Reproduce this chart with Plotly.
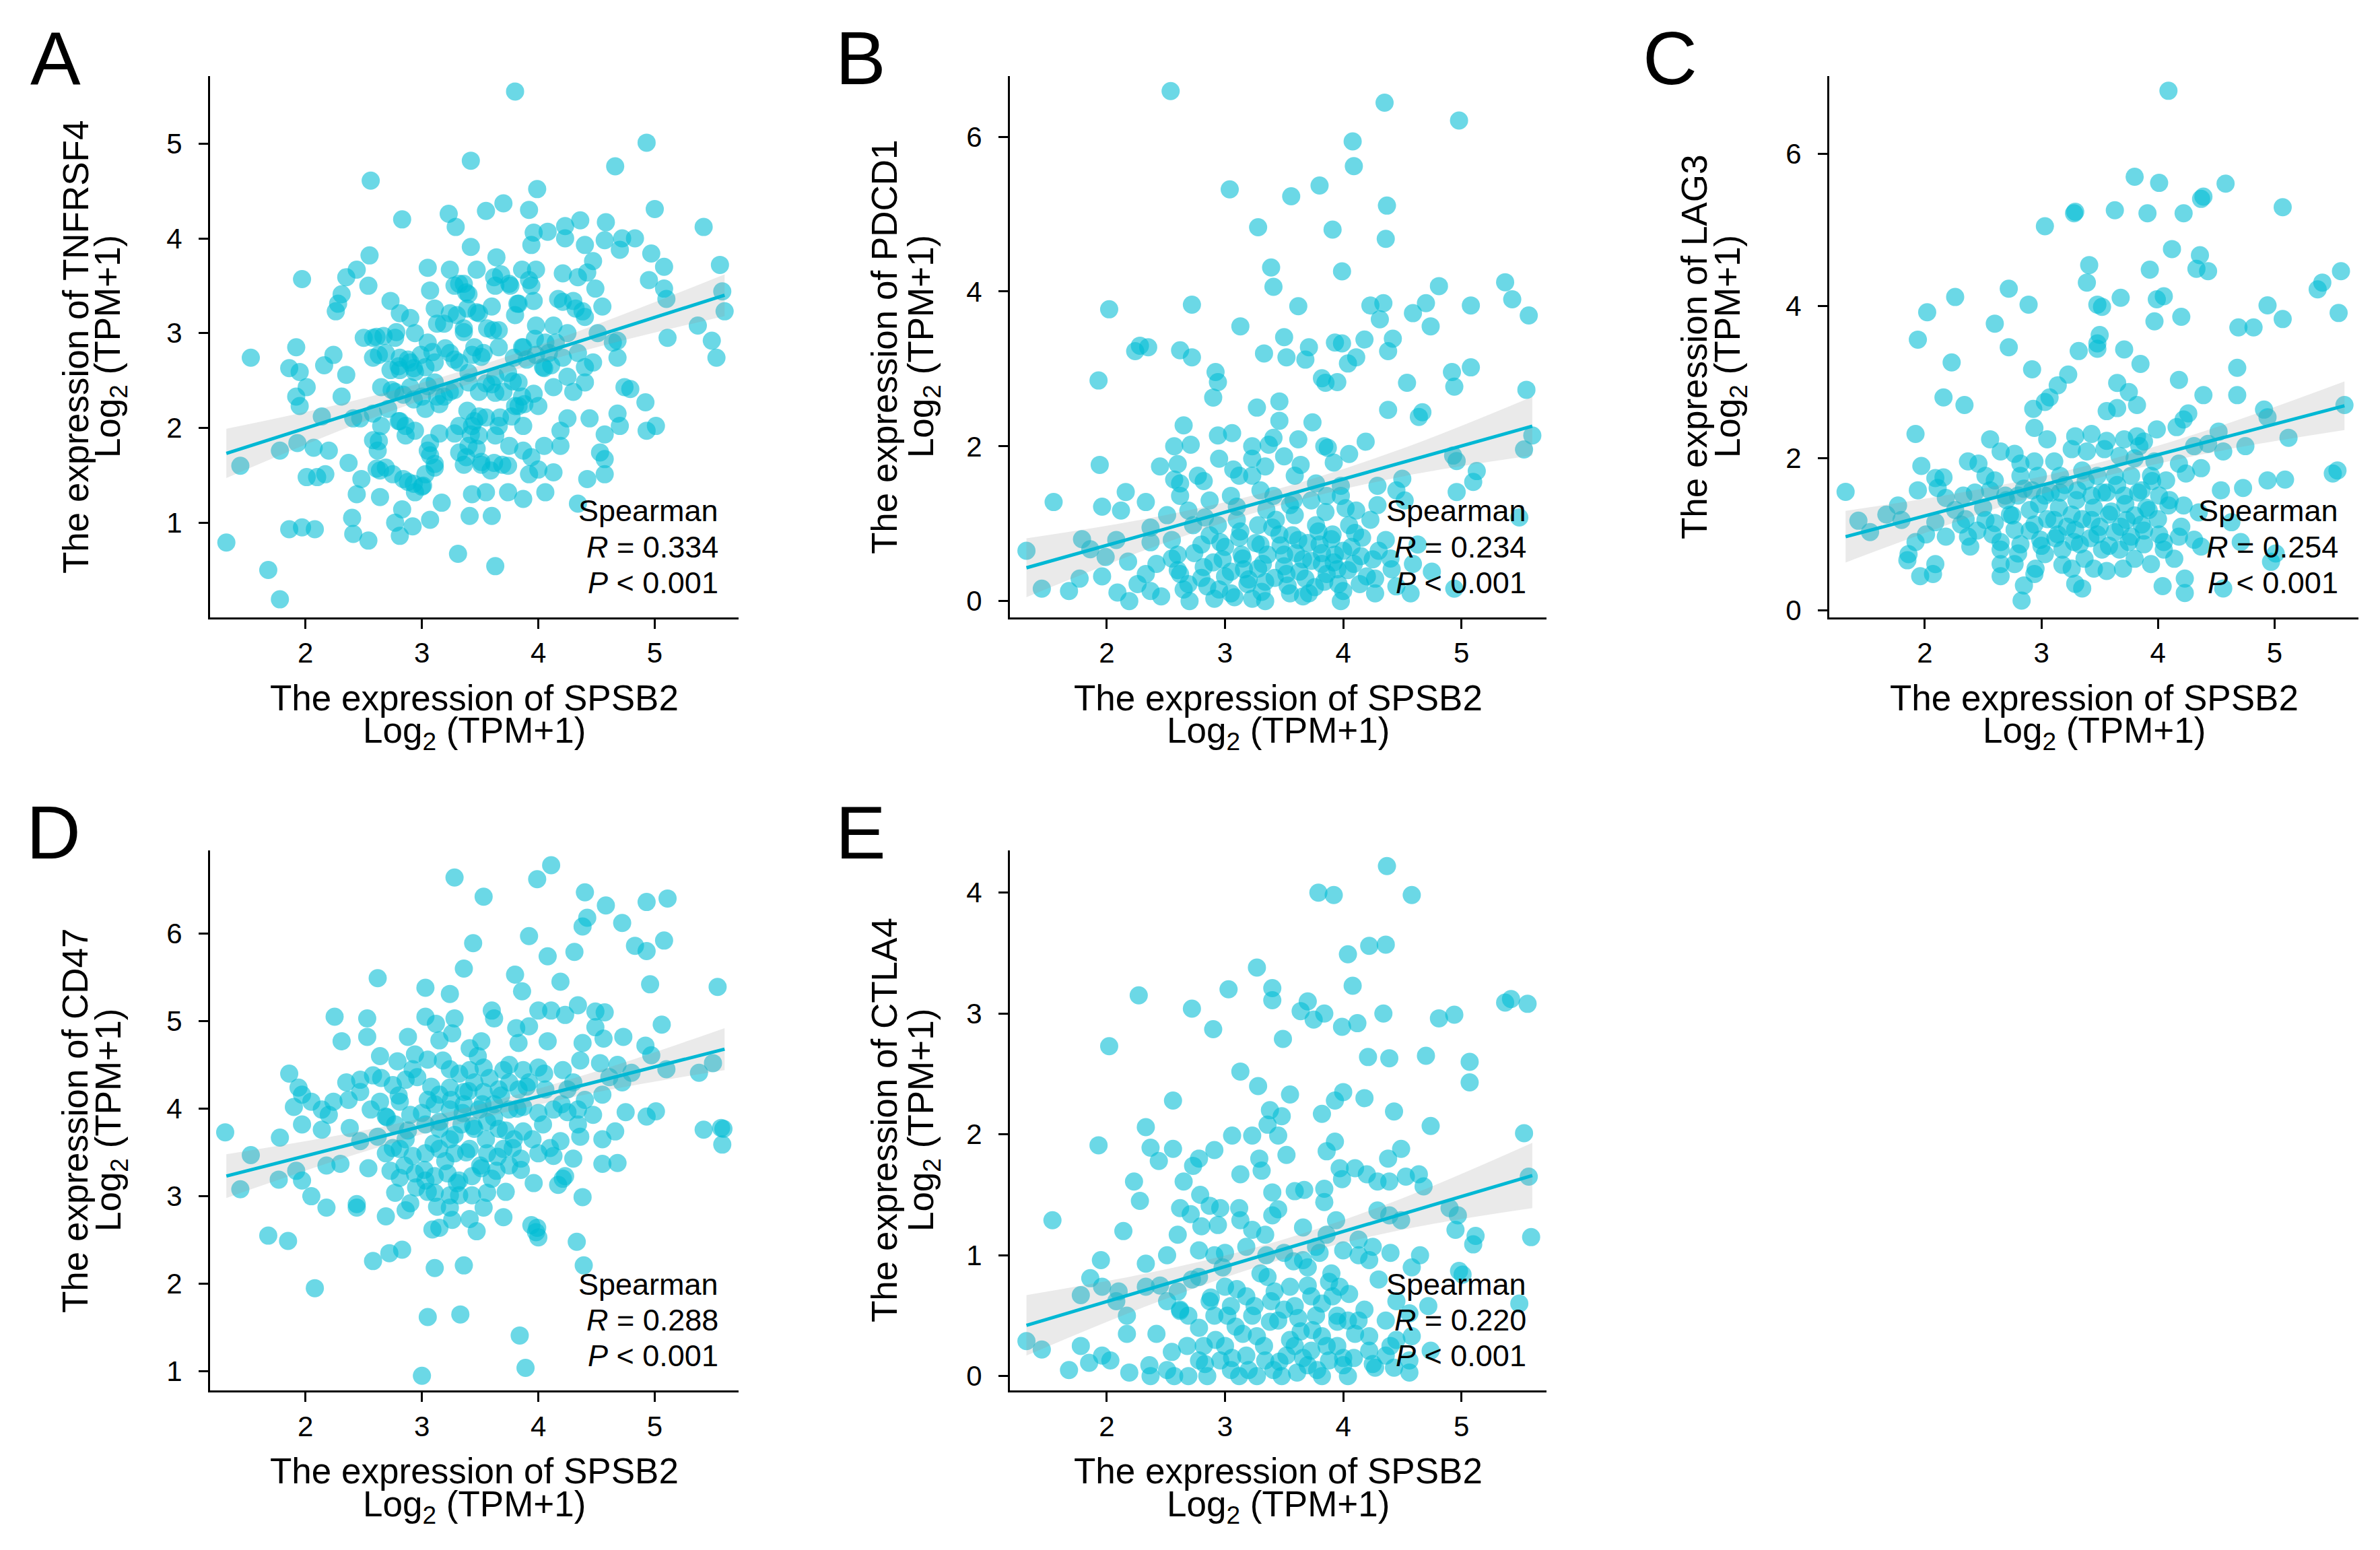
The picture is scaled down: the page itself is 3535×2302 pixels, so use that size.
import numpy as np
import plotly.graph_objects as go

W, H = 3535, 2302
FONT = "Liberation Sans, Arial, sans-serif"
POINT = "rgba(0,188,212,0.58)"
LINE = "#00b8d4"
BAND = "rgba(150,150,150,0.2)"

# shared x axis (SPSB2)
spsb2_ticks = [2, 3, 4, 5]
x_range = [1.18, 5.72]
fit_x = [1.32, 5.60]
ci_x = [1.32, 2.4, 3.45, 4.5, 5.6]

# A - TNFRSF4 (x = SPSB2, y = gene)
tnfrsf4_pts = [
    (3.80,5.55),(4.93,5.01),(3.42,4.82),(4.66,4.76),(2.56,4.61),(3.99,4.52),(3.23,4.26),(3.29,4.12),
    (3.55,4.29),(3.70,4.37),(3.92,4.30),(2.83,4.20),(4.36,4.19),(4.58,4.17),(4.23,4.13),(5.00,4.31),
    (5.42,4.12),(3.94,3.93),(3.96,4.06),(4.08,4.07),(4.23,4.00),(4.40,3.93),(4.57,3.98),(4.72,4.00),
    (4.83,4.00),(4.70,3.88),(3.42,3.91),(2.55,3.82),(3.64,3.80),(4.97,3.84),(5.56,3.72),(5.08,3.70),
    (4.47,3.76),(4.42,3.64),(3.05,3.69),(3.24,3.67),(3.47,3.67),(3.68,3.62),(3.86,3.67),(3.98,3.67),
    (4.21,3.63),(2.44,3.67),(2.35,3.59),(1.97,3.57),(2.54,3.50),(3.07,3.45),(3.32,3.52),(3.40,3.41),
    (3.62,3.59),(3.75,3.52),(3.92,3.56),(4.95,3.56),(5.08,3.47),(4.49,3.47),(4.34,3.59),(2.31,3.41),
    (2.28,3.31),(2.26,3.23),(2.73,3.34),(2.81,3.21),(2.90,3.16),(3.83,3.31),(3.96,3.34),(4.17,3.36),
    (4.30,3.34),(4.38,3.23),(4.55,3.28),(5.10,3.36),(5.58,3.44),(5.60,3.23),(3.11,3.26),(3.24,3.21),
    (3.39,3.26),(3.49,3.21),(3.60,3.28),(3.19,3.10),(3.36,3.05),(3.56,3.05),(3.66,3.03),(3.98,3.08),
    (4.13,3.08),(4.25,3.00),(4.51,3.00),(4.68,2.92),(5.11,2.95),(5.37,3.08),(5.49,2.92),(5.53,2.74),
    (2.50,2.95),(2.58,2.95),(2.67,2.97),(2.77,2.95),(2.94,3.00),(3.05,2.90),(1.92,2.85),(1.53,2.74),
    (2.24,2.77),(2.16,2.66),(1.86,2.63),(1.95,2.59),(2.01,2.43),(1.92,2.33),(1.95,2.23),(2.35,2.56),
    (2.58,2.74),(2.69,2.79),(2.81,2.74),(2.90,2.69),(2.73,2.61),(2.81,2.61),(2.94,2.59),(3.03,2.64),
    (3.11,2.69),(3.24,2.79),(3.32,2.69),(3.43,2.77),(3.53,2.79),(3.66,2.85),(3.79,2.74),(3.87,2.85),
    (3.98,2.77),(4.04,2.64),(4.11,2.66),(4.21,2.74),(4.34,2.79),(4.47,2.69),(4.68,2.74),(4.64,2.90),
    (2.65,2.43),(2.77,2.38),(2.90,2.43),(3.11,2.48),(3.24,2.38),(3.40,2.48),(3.49,2.38),(3.60,2.46),
    (3.70,2.38),(3.83,2.48),(3.96,2.36),(4.13,2.43),(4.25,2.54),(4.40,2.48),(4.74,2.43),(2.31,2.33),
    (2.41,2.10),(2.47,2.10),(2.14,2.12),(2.20,1.76),(2.07,1.79),(1.93,1.84),(1.78,1.76),(1.44,1.60),
    (1.32,0.79),(1.68,0.50),(1.78,0.19),(1.86,0.93),(1.97,0.95),(2.08,0.93),(2.01,1.48),(2.10,1.48),
    (2.17,1.51),(2.37,1.63),(2.48,1.46),(2.44,1.30),(2.40,1.05),(2.41,0.88),(2.54,0.81),(2.64,1.27),
    (2.77,1.00),(2.81,0.86),(2.92,0.96),(3.07,1.03),(3.17,1.21),(3.31,0.67),(3.63,0.54),(3.41,1.07),
    (3.60,1.07),(3.43,1.30),(3.55,1.32),(3.74,1.32),(3.87,1.25),(4.06,1.32),(4.34,1.20),(4.42,1.46),
    (4.57,1.51),(4.57,1.67),(4.53,1.74),(4.57,1.93),(4.70,2.02),(4.68,2.15),(4.92,2.27),(4.93,1.97),
    (5.01,2.02),(4.44,2.10),(4.25,2.10),(4.19,1.97),(4.19,1.81),(4.05,1.81),(3.87,1.76),(3.92,1.51),
    (4.00,1.56),(4.13,1.53),(3.94,1.69),(3.69,1.61),(3.75,1.81),(3.63,1.92),(3.66,2.02),(3.87,2.02),
    (4.00,2.23),(3.83,2.23),(3.77,2.12),(3.49,2.12),(3.39,2.18),(3.32,2.02),(3.43,2.02),(3.49,1.92),
    (3.40,1.81),(3.32,1.74),(3.36,1.61),(3.51,1.61),(3.62,1.63),(3.15,1.94),(3.28,1.94),(3.07,1.84),
    (3.07,1.71),(3.11,1.58),(3.03,1.51),(3.00,1.38),(2.94,1.32),(2.88,1.43),(2.83,1.14),(2.75,1.51),
    (2.69,1.58),(2.62,1.76),(2.58,1.87),(2.81,2.07),(2.86,1.92),(2.94,1.97),(2.65,2.02),(2.58,2.15),
    (2.71,2.20),(3.03,2.20),(3.15,2.25),(3.19,2.33),(3.00,2.33),(4.30,2.38),(4.40,2.64),(4.15,2.90),
    (4.06,2.90),(4.79,2.41),
    # dense core
    (3.28,3.50),(3.38,3.43),(3.36,3.52),(3.63,3.50),(3.76,3.50),(3.94,3.50),(4.21,3.33),(4.32,3.26),
    (4.40,3.17),(3.82,3.31),(3.80,3.19),(3.47,3.22),(3.30,3.19),(3.13,3.10),(3.61,3.03),(3.36,3.01),
    (2.61,2.96),(2.78,3.01),(2.63,2.77),(2.88,2.72),(2.99,2.77),(2.93,2.63),(2.80,2.65),(3.09,2.80),
    (3.20,2.84),(3.28,2.72),(3.45,2.85),(3.51,2.75),(3.40,2.58),(3.86,2.85),(3.97,2.94),(4.09,2.79),
    (4.05,2.63),(3.90,2.72),(3.74,2.58),(3.63,2.54),(3.55,2.47),(3.78,2.49),(3.63,2.37),(3.86,2.33),
    (2.74,2.40),(2.84,2.35),(2.93,2.30),(3.05,2.44),(3.13,2.33),(3.28,2.40),(3.45,2.07),(3.42,1.93),
    (3.55,2.11),(3.67,2.11),(3.80,2.23),(3.88,2.25),(3.47,1.78),(3.38,1.69),(3.51,1.64),(2.63,1.86),
    (2.61,1.57),(2.80,2.07),(2.86,2.02),(3.05,1.76),(3.11,1.62),(2.84,1.46),(2.93,1.41),(3.01,1.39),
    (2.64,1.55),(3.59,1.55),(3.74,1.60),
]
tnfrsf4_fit = [1.73, 3.40]
tnfrsf4_ci = [0.26, 0.13, 0.08, 0.12, 0.22]

# B - PDCD1
pdcd1_pts = [
    (2.54,6.59),(4.35,6.44),(4.98,6.21),(4.08,5.94),(4.09,5.62),(3.04,5.32),(3.56,5.23),(3.80,5.37),
    (4.37,5.11),(3.28,4.83),(3.91,4.80),(4.36,4.68),(3.99,4.26),(3.39,4.31),(3.41,4.06),(4.81,4.07),
    (5.37,4.12),(5.43,3.90),(5.08,3.82),(5.57,3.69),(4.70,3.85),(4.59,3.72),(4.74,3.55),(4.23,3.82),
    (4.34,3.85),(4.31,3.64),(3.62,3.81),(2.72,3.83),(2.02,3.77),(3.13,3.55),(3.50,3.41),(3.71,3.28),
    (3.68,3.12),(3.33,3.20),(3.52,3.15),(3.93,3.34),(3.99,3.33),(4.04,3.07),(4.11,3.15),(4.18,3.38),
    (4.42,3.39),(4.38,3.23),(2.24,3.23),(2.28,3.30),(2.35,3.28),(2.62,3.24),(2.72,3.15),(2.92,2.96),
    (2.94,2.83),(2.90,2.63),(1.93,2.85),(3.82,2.88),(3.95,2.83),(3.85,2.82),(4.92,2.96),(4.94,2.77),
    (5.08,3.02),(4.54,2.82),(5.55,2.73),(3.27,2.50),(3.46,2.58),(3.46,2.33),(3.41,2.11),(3.74,2.31),
    (4.38,2.47),(4.67,2.44),(4.64,2.38),(2.65,2.27),(2.57,2.00),(2.71,2.02),(2.94,2.14),(3.06,2.17),
    (3.23,2.00),(3.37,2.02),(3.62,2.09),(3.84,2.00),(3.87,1.98),(4.05,1.90),(3.92,1.79),(4.19,2.06),
    (4.93,1.88),(4.96,1.81),(5.53,1.96),(5.60,2.14),(1.94,1.76),(2.45,1.74),(2.60,1.77),(2.95,1.84),
    (3.07,1.70),(3.23,1.84),(3.34,1.74),(3.50,1.87),(3.64,1.76),(2.57,1.57),(2.62,1.52),(2.77,1.62),
    (2.82,1.55),(3.12,1.62),(3.23,1.62),(3.59,1.62),(3.77,1.52),(3.98,1.49),(4.29,1.49),(4.50,1.58),
    (5.13,1.68),(5.10,1.54),(4.96,1.41),(1.55,1.28),(1.96,1.22),(2.16,1.41),(2.33,1.28),(2.12,1.17),
    (2.51,1.11),(2.69,1.17),(2.87,1.30),(3.05,1.36),(3.30,1.43),(3.41,1.36),(3.55,1.24),(3.73,1.30),
    (3.86,1.36),(3.98,1.36),(4.11,1.17),(4.29,1.24),(4.45,1.43),(4.52,1.30),(5.49,1.08),(1.32,0.65),
    (1.45,0.16),(1.68,0.13),(1.79,0.80),(1.86,0.67),(1.77,0.29),(1.96,0.32),(1.99,0.57),(2.08,0.79),
    (2.18,0.51),(2.09,0.11),(2.19,0.00),(2.37,0.95),(2.37,0.76),(2.42,0.48),(2.37,0.13),(2.46,0.06),
    (2.55,0.79),(2.60,0.60),(2.62,0.35),(2.70,0.00),(2.73,0.98),(2.80,0.73),(2.82,0.44),(2.85,0.19),
    (2.91,0.03),(2.94,0.98),(2.96,0.76),(2.98,0.54),(3.00,0.32),(3.05,0.10),(3.10,1.05),(3.12,0.82),
    (3.14,0.60),(3.16,0.41),(3.19,0.22),(3.23,0.03),(3.28,0.98),(3.30,0.73),(3.32,0.48),(3.34,0.25),
    (3.34,0.00),(3.43,1.05),(3.46,0.86),(3.50,0.60),(3.52,0.35),(3.55,0.10),(3.59,1.11),(3.62,0.79),
    (3.66,0.54),(3.68,0.29),(3.71,0.10),(3.77,0.98),(3.80,0.73),(3.82,0.48),(3.84,0.25),(3.91,0.86),
    (3.93,0.60),(3.95,0.41),(4.00,0.13),(4.05,0.98),(4.07,0.70),(4.09,0.48),(4.14,0.22),(4.16,0.82),
    (4.23,1.05),(4.25,0.54),(4.27,0.29),(4.27,0.10),(4.36,0.79),(4.41,0.41),(4.45,0.19),(4.57,0.10),
    (4.59,0.48),(4.63,0.73),(4.75,0.38),(4.94,0.16),(2.62,1.36),(2.33,0.35),(2.26,0.22),(2.69,0.22),
    (3.98,0.00),
    # dense core
    (2.74,0.62),(2.80,0.30),(2.87,0.85),(2.90,0.50),(2.95,0.15),(3.00,0.70),(3.05,0.38),(3.08,0.05),
    (3.13,0.90),(3.15,0.55),(3.20,0.28),(3.26,0.75),(3.28,0.42),(3.31,0.12),(3.36,0.60),(3.40,0.95),
    (3.42,0.30),(3.47,0.72),(3.50,0.45),(3.53,0.20),(3.57,0.85),(3.60,0.62),(3.63,0.38),(3.66,0.06),
    (3.70,0.75),(3.73,0.52),(3.76,0.18),(3.79,0.90),(3.82,0.62),(3.86,0.35),(3.90,0.80),(3.92,0.50),
    (3.96,0.22),(4.00,0.65),(4.04,0.40),(4.10,0.88),(4.15,0.58),(4.20,0.32),(4.30,0.65),(4.40,0.55),
    (2.60,0.40),(2.65,0.15),(2.55,0.55),(3.10,1.22),(3.35,1.18),(3.58,1.30),(3.85,1.15),(2.83,1.08),
    (4.02,1.20),
]
pdcd1_fit = [0.43, 2.26]
pdcd1_ci = [0.38, 0.19, 0.11, 0.18, 0.38]

# C - LAG3
lag3_pts = [
    (4.09,6.83),(3.80,5.70),(4.01,5.62),(4.58,5.61),(4.39,5.44),(4.37,5.41),(5.07,5.30),(3.28,5.22),
    (3.29,5.24),(3.63,5.26),(3.91,5.22),(4.22,5.22),(3.03,5.05),(4.12,4.75),(3.41,4.54),(3.39,4.31),
    (3.93,4.48),(4.36,4.67),(4.33,4.49),(4.43,4.46),(5.57,4.46),(5.41,4.31),(5.37,4.22),(2.72,4.23),
    (2.26,4.12),(2.02,3.92),(2.89,4.02),(3.48,4.02),(3.52,3.99),(3.68,4.11),(3.99,4.09),(4.05,4.13),
    (3.97,3.80),(4.20,3.86),(4.94,4.01),(5.07,3.83),(5.55,3.91),(4.69,3.72),(4.82,3.72),(2.60,3.77),
    (1.94,3.56),(2.72,3.46),(3.32,3.41),(3.48,3.44),(3.50,3.62),(3.48,3.51),(3.71,3.43),(2.23,3.26),
    (2.92,3.17),(3.23,3.10),(3.85,3.24),(4.68,3.19),(3.14,2.96),(3.07,2.80),(3.03,2.74),(2.93,2.65),
    (3.65,2.99),(3.75,2.87),(4.18,3.03),(3.82,2.70),(3.65,2.66),(3.56,2.62),(4.39,2.83),(4.68,2.83),
    (2.16,2.80),(2.34,2.70),(5.60,2.70),(4.91,2.64),(4.94,2.54),(4.26,2.59),(4.22,2.51),(1.92,2.32),
    (2.94,2.40),(2.56,2.25),(3.05,2.25),(3.29,2.29),(3.43,2.32),(3.56,2.23),(3.71,2.25),(3.82,2.29),
    (3.99,2.38),(4.16,2.41),(3.84,2.16),(3.88,2.22),(4.52,2.35),(4.75,2.16),(5.12,2.27),(4.43,2.19),
    (4.56,2.09),(4.31,2.16),(2.65,2.09),(2.77,2.06),(2.82,1.93),(2.94,1.96),(3.11,1.96),(3.26,2.12),
    (3.39,2.09),(3.54,2.12),(3.67,2.03),(3.80,2.00),(3.97,1.96),(4.18,1.93),(4.37,1.87),(2.37,1.96),
    (2.46,1.93),(1.97,1.90),(2.09,1.74),(2.16,1.75),(2.52,1.77),(2.60,1.71),(2.82,1.77),(2.97,1.77),
    (3.16,1.77),(3.35,1.84),(3.48,1.77),(3.63,1.77),(3.77,1.77),(3.94,1.77),(4.07,1.71),(4.24,1.80),
    (4.94,1.71),(5.09,1.72),(5.50,1.80),(5.54,1.84),(4.73,1.61),(4.54,1.58),(1.94,1.58),(1.32,1.56),
    (1.43,1.18),(1.53,1.03),(1.67,1.26),(1.77,1.38),(1.80,1.19),(2.11,1.61),(2.18,1.48),(2.33,1.51),
    (2.26,1.32),(2.43,1.55),(2.56,1.58),(2.69,1.51),(2.80,1.51),(2.92,1.58),(3.03,1.51),(3.16,1.55),
    (3.31,1.58),(3.43,1.51),(3.56,1.55),(3.71,1.51),(3.86,1.58),(4.01,1.51),(4.09,1.38),(4.22,1.38),
    (4.35,1.29),(2.09,1.16),(2.01,1.00),(1.92,0.90),(2.18,0.97),(2.31,1.13),(2.37,0.97),(2.39,0.84),
    (2.52,1.19),(2.58,1.00),(2.65,0.80),(2.73,1.26),(2.77,1.06),(2.82,0.87),(2.90,1.32),(2.94,1.13),
    (2.99,0.93),(3.03,0.74),(3.11,1.19),(3.14,1.00),(3.18,0.80),(3.26,1.26),(3.29,1.06),(3.33,0.87),
    (3.37,0.68),(3.43,1.19),(3.48,1.00),(3.52,0.80),(3.58,1.26),(3.63,1.03),(3.67,0.80),(3.73,1.19),
    (3.77,0.97),(3.80,0.68),(3.86,1.13),(3.88,0.87),(3.92,1.32),(3.94,0.61),(4.01,1.00),(4.05,0.90),
    (4.14,0.68),(4.18,0.97),(4.31,0.93),(4.37,0.84),(5.01,0.75),(4.71,0.90),(4.63,1.16),(1.86,0.74),
    (1.85,0.66),(1.96,0.45),(2.07,0.48),(2.09,0.61),(2.65,0.61),(2.65,0.45),(2.77,0.61),(2.85,0.33),
    (2.83,0.13),(2.94,0.48),(3.29,0.35),(3.35,0.29),(3.26,0.55),(3.56,0.52),(4.04,0.32),(4.23,0.42),
    (4.23,0.23),(4.56,0.29),(4.97,0.64),
    # dense core
    (2.35,1.20),(2.45,1.05),(2.50,1.35),(2.60,1.15),(2.65,0.90),(2.70,1.45),(2.75,1.25),(2.80,0.75),
    (2.85,1.60),(2.90,1.05),(2.98,1.40),(3.00,0.85),(3.05,1.20),(3.08,1.55),(3.12,0.95),(3.15,1.35),
    (3.20,1.65),(3.22,1.10),(3.28,0.90),(3.30,1.45),(3.35,1.20),(3.38,1.70),(3.42,0.95),(3.45,1.35),
    (3.50,1.10),(3.52,1.55),(3.58,0.85),(3.60,1.30),(3.65,1.65),(3.68,1.10),(3.72,1.40),(3.75,0.90),
    (3.80,1.25),(3.83,1.55),(3.88,1.05),(3.90,1.35),(3.95,1.70),(4.00,1.20),(4.05,0.80),(4.10,1.45),
    (3.18,0.60),(3.45,0.55),(3.70,0.55),(2.95,0.55),(4.20,1.10),
]
lag3_fit = [0.97, 2.69]
lag3_ci = [0.34, 0.17, 0.10, 0.16, 0.32]

# D - CD47
cd47_pts = [
    (3.28,6.64),(3.99,6.62),(4.11,6.78),(3.53,6.42),(4.40,6.47),(4.58,6.32),(4.93,6.36),(5.11,6.40),
    (4.42,6.18),(4.38,6.08),(4.72,6.12),(3.92,5.97),(3.44,5.89),(4.83,5.86),(4.93,5.80),(5.08,5.92),
    (4.08,5.74),(4.31,5.79),(3.36,5.60),(3.80,5.53),(2.62,5.49),(4.19,5.45),(3.86,5.34),(3.03,5.38),
    (3.24,5.31),(4.96,5.42),(5.54,5.39),(2.25,5.05),(2.53,5.03),(3.03,5.05),(3.28,5.03),(3.12,4.97),
    (3.60,5.12),(3.62,5.03),(4.00,5.12),(4.11,5.12),(4.23,5.07),(4.34,5.18),(4.49,5.11),(4.57,5.10),
    (5.06,4.96),(3.81,4.92),(3.92,4.94),(4.49,4.93),(2.31,4.77),(2.53,4.82),(2.88,4.82),(3.26,4.86),
    (3.15,4.78),(3.51,4.77),(3.83,4.75),(4.08,4.77),(4.38,4.75),(4.56,4.80),(4.73,4.82),(4.92,4.72),
    (3.41,4.69),(2.64,4.60),(2.94,4.62),(3.05,4.56),(2.79,4.54),(4.97,4.61),(5.10,4.45),(5.38,4.41),
    (5.50,4.52),(1.86,4.40),(3.24,4.45),(3.41,4.44),(3.53,4.47),(3.70,4.44),(3.87,4.44),(4.00,4.47),
    (4.21,4.44),(4.36,4.55),(4.53,4.52),(4.68,4.50),(4.72,4.30),(4.61,4.36),(4.80,4.41),(2.35,4.30),
    (2.47,4.33),(2.58,4.38),(2.75,4.27),(2.86,4.33),(2.96,4.36),(1.94,4.24),(1.97,4.16),(2.05,4.08),
    (1.90,4.02),(2.14,3.99),(2.24,4.08),(2.20,3.93),(1.97,3.82),(2.14,3.76),(2.37,4.10),(2.47,4.19),
    (2.56,3.99),(2.64,4.08),(2.69,3.91),(2.81,4.08),(2.90,3.93),(3.05,4.10),(3.15,4.16),(3.24,4.24),
    (3.36,4.19),(3.45,4.30),(3.53,4.19),(3.66,4.22),(3.75,4.30),(3.83,4.22),(3.92,4.30),(4.06,4.22),
    (4.25,4.22),(4.40,4.10),(4.55,4.16),(3.11,4.05),(3.24,3.99),(3.36,4.05),(3.49,3.99),(3.62,4.05),
    (3.75,3.99),(3.87,4.02),(4.13,3.99),(4.25,3.96),(4.34,3.99),(4.47,3.93),(4.75,3.96),(4.93,3.91),
    (5.01,3.97),(2.38,3.78),(2.47,3.63),(2.62,3.68),(2.77,3.82),(2.86,3.65),(3.03,3.82),(3.15,3.77),
    (3.24,3.65),(3.34,3.82),(3.45,3.77),(3.56,3.85),(3.66,3.77),(3.79,3.65),(3.87,3.74),(4.04,3.82),
    (4.19,3.63),(4.34,3.82),(4.36,3.68),(4.55,3.65),(4.66,3.74),(5.42,3.76),(5.57,3.78),(5.59,3.77),
    (5.58,3.59),(1.31,3.73),(1.53,3.47),(1.78,3.67),(1.44,3.08),(1.77,3.19),(1.92,3.29),(1.97,3.18),
    (2.05,3.00),(2.18,2.87),(2.18,3.35),(2.30,3.37),(2.44,2.91),(2.44,2.87),(2.54,3.32),(2.69,3.49),
    (2.81,3.54),(2.92,3.46),(3.03,3.49),(3.15,3.54),(3.28,3.49),(3.41,3.54),(3.56,3.49),(3.70,3.54),
    (3.85,3.43),(4.00,3.49),(4.13,3.46),(4.30,3.43),(4.55,3.37),(4.68,3.38),(2.73,3.29),(2.81,3.21),
    (2.94,3.26),(3.03,3.18),(3.11,3.23),(3.22,3.26),(3.32,3.18),(3.43,3.23),(3.51,3.32),(3.64,3.29),
    (3.75,3.35),(2.77,3.04),(2.90,2.92),(2.86,2.84),(3.11,3.04),(3.24,3.01),(3.43,3.01),(3.56,3.04),
    (3.72,3.05),(3.96,3.15),(4.17,3.13),(4.23,3.23),(4.38,2.99),(4.21,3.20),(3.13,2.88),(3.24,2.87),
    (3.53,2.87),(3.32,3.01),(2.69,2.77),(3.26,2.73),(3.41,2.74),(3.70,2.76),(3.94,2.67),(3.99,2.64),
    (4.00,2.53),(3.98,2.59),(3.09,2.62),(3.15,2.64),(3.47,2.60),(1.68,2.55),(1.85,2.49),(2.58,2.26),
    (2.72,2.35),(2.83,2.39),(4.33,2.48),(4.39,2.21),(3.11,2.18),(3.36,2.21),(2.08,1.95),(3.05,1.62),
    (3.33,1.65),(3.84,1.41),(3.00,0.95),(3.89,1.04),
    # dense core
    (2.65,4.35),(2.70,3.90),(2.75,3.55),(2.80,4.15),(2.85,3.35),(2.88,3.75),(2.92,4.45),(2.95,3.10),
    (3.00,3.95),(3.02,3.30),(3.08,4.25),(3.10,3.60),(3.15,3.85),(3.18,4.55),(3.20,3.40),(3.25,4.10),
    (3.28,3.70),(3.32,4.40),(3.35,3.95),(3.38,3.50),(3.40,4.20),(3.44,3.80),(3.48,4.60),(3.50,3.35),
    (3.52,4.05),(3.55,3.65),(3.58,4.35),(3.62,3.90),(3.65,3.45),(3.68,4.15),(3.72,3.75),(3.75,4.50),
    (3.78,3.55),(3.82,4.00),(3.85,3.30),(3.90,4.25),(3.95,3.65),(4.00,3.95),(4.05,4.40),(4.10,3.55),
    (4.20,4.05),(4.30,4.30),(3.05,3.05),(3.30,3.15),(3.60,3.20),
]
cd47_fit = [3.23, 4.68]
cd47_ci = [0.25, 0.13, 0.08, 0.12, 0.24]

# E - CTLA4
ctla4_pts = [
    (4.37,4.22),(3.79,4.00),(3.92,3.98),(4.58,3.98),(4.22,3.56),(4.36,3.57),(4.04,3.49),(3.27,3.38),
    (4.08,3.23),(3.40,3.21),(3.40,3.11),(3.03,3.20),(2.27,3.15),(2.72,3.04),(3.70,3.10),(3.64,3.02),
    (3.75,2.95),(3.84,3.00),(4.34,3.00),(4.12,2.92),(3.99,2.89),(2.90,2.87),(3.49,2.79),(4.81,2.96),
    (4.94,2.99),(5.37,3.09),(5.42,3.12),(5.56,3.08),(2.02,2.73),(4.21,2.64),(4.39,2.63),(4.70,2.65),
    (5.07,2.60),(5.07,2.43),(3.13,2.52),(3.28,2.40),(3.55,2.33),(4.00,2.35),(3.93,2.28),(4.18,2.30),
    (2.56,2.28),(3.82,2.17),(3.38,2.20),(3.48,2.15),(4.43,2.19),(4.74,2.07),(5.53,2.01),(2.33,2.06),
    (1.93,1.91),(2.37,1.89),(2.56,1.88),(2.44,1.78),(2.78,1.80),(2.73,1.74),(2.91,1.87),(3.06,1.99),
    (3.23,1.99),(3.45,1.99),(3.36,2.08),(3.52,1.83),(3.29,1.80),(3.31,1.70),(3.93,1.94),(3.86,1.86),
    (4.38,1.80),(4.49,1.88),(3.97,1.72),(4.10,1.72),(4.20,1.67),(4.29,1.61),(4.39,1.61),(4.53,1.65),
    (4.64,1.67),(4.68,1.57),(3.99,1.63),(5.57,1.65),(2.23,1.61),(2.28,1.45),(2.65,1.61),(2.79,1.50),
    (2.87,1.41),(3.13,1.67),(3.40,1.52),(3.59,1.53),(3.67,1.54),(3.84,1.55),(3.84,1.44),(3.45,1.38),
    (3.40,1.33),(2.62,1.39),(2.71,1.34),(2.96,1.39),(3.12,1.39),(3.13,1.29),(1.54,1.29),(3.94,1.29),
    (4.29,1.37),(4.39,1.33),(4.49,1.29),(4.90,1.39),(4.97,1.33),(4.95,1.21),(5.12,1.16),(5.10,1.09),
    (5.59,1.15),(2.14,1.20),(2.60,1.17),(2.80,1.24),(2.94,1.25),(3.23,1.21),(3.34,1.17),(3.66,1.23),
    (3.86,1.17),(4.13,1.13),(4.65,1.00),(4.58,0.90),(4.98,0.87),(5.01,0.84),(1.95,0.96),(2.33,0.93),
    (2.51,1.00),(2.78,1.04),(2.91,1.00),(3.00,1.02),(3.18,1.07),(3.50,1.02),(3.66,0.96),(3.77,1.07),
    (4.00,1.04),(4.13,1.00),(4.25,1.07),(4.22,0.96),(4.40,1.02),(1.86,0.81),(1.78,0.67),(1.96,0.74),
    (2.10,0.70),(2.08,0.62),(2.17,0.50),(2.17,0.35),(2.33,0.74),(2.42,0.35),(2.51,0.62),(2.60,0.70),
    (2.62,0.54),(2.69,0.50),(2.78,0.82),(2.87,0.62),(2.91,0.50),(3.00,0.74),(3.05,0.58),(3.09,0.41),
    (3.18,0.66),(3.23,0.50),(3.27,0.33),(3.36,0.82),(3.39,0.62),(3.45,0.46),(3.55,0.74),(3.59,0.58),
    (3.64,0.37),(3.70,0.90),(3.73,0.66),(3.77,0.50),(3.82,0.33),(3.88,0.78),(3.91,0.66),(3.95,0.50),
    (3.97,0.74),(4.04,0.46),(4.13,0.46),(4.22,0.33),(4.36,0.46),(4.45,0.62),(4.56,0.52),(4.72,0.58),
    (5.49,0.60),(4.58,0.33),(4.74,0.21),(1.32,0.29),(1.45,0.22),(1.68,0.05),(1.78,0.25),(1.85,0.11),
    (1.96,0.17),(2.03,0.13),(2.19,0.03),(2.36,0.09),(2.37,0.00),(2.51,0.05),(2.57,0.00),(2.69,0.00),
    (2.78,0.13),(2.82,0.25),(2.85,0.00),(2.96,0.13),(3.00,0.25),(3.05,0.05),(3.12,0.00),(3.18,0.17),
    (3.27,0.00),(3.34,0.13),(3.41,0.05),(3.48,0.00),(3.52,0.17),(3.59,0.25),(3.61,0.03),(3.70,0.09),
    (3.73,0.21),(3.82,0.00),(3.88,0.13),(3.95,0.25),(4.00,0.09),(4.04,0.00),(4.09,0.15),(4.22,0.21),
    (4.27,0.07),(4.36,0.17),(4.40,0.25),(4.43,0.07),(4.56,0.03),(4.56,0.13),
    # dense core
    (2.62,0.55),(2.68,0.25),(2.72,0.80),(2.78,0.40),(2.83,0.10),(2.88,0.65),(2.92,0.30),(2.98,0.90),
    (3.02,0.50),(3.06,0.15),(3.10,0.72),(3.15,0.35),(3.20,0.05),(3.25,0.58),(3.30,0.85),(3.33,0.25),
    (3.38,0.45),(3.42,0.70),(3.46,0.12),(3.50,0.55),(3.55,0.30),(3.58,0.95),(3.62,0.48),(3.66,0.15),
    (3.70,0.75),(3.74,0.38),(3.78,0.05),(3.82,0.60),(3.86,0.25),(3.90,0.85),(3.95,0.45),(4.00,0.15),
    (4.05,0.68),(4.10,0.35),(4.18,0.55),(4.25,0.10),(4.30,0.80),(4.45,0.30),(2.55,0.20),(2.45,0.75),
    (3.35,1.00),(3.80,1.02),
]
ctla4_fit = [0.42, 1.66]
ctla4_ci = [0.25, 0.13, 0.08, 0.13, 0.27]

# panel boxes in page pixels: left, right, top, bottom
panels = [
    dict(tag="A", gene="TNFRSF4", pts=tnfrsf4_pts, fit=tnfrsf4_fit, ci=tnfrsf4_ci, r="0.334",
         yrange=[0.0, 5.71], yticks=[1, 2, 3, 4, 5], box=(304, 1089, 106, 914), tag_x=35, ttl=(200, 149)),
    dict(tag="B", gene="PDCD1", pts=pdcd1_pts, fit=pdcd1_fit, ci=pdcd1_ci, r="0.234",
         yrange=[-0.21, 6.78], yticks=[0, 2, 4, 6], box=(1492, 2289, 106, 914), tag_x=1231, ttl=(187, 129)),
    dict(tag="C", gene="LAG3", pts=lag3_pts, fit=lag3_fit, ci=lag3_ci, r="0.254",
         yrange=[-0.09, 7.02], yticks=[0, 2, 4, 6], box=(2709, 3495, 106, 914), tag_x=2430, ttl=(201, 148)),
    dict(tag="D", gene="CD47", pts=cd47_pts, fit=cd47_fit, ci=cd47_ci, r="0.288",
         yrange=[0.78, 6.95], yticks=[1, 2, 3, 4, 5, 6], box=(304, 1089, 1262, 2069), tag_x=29, ttl=(201, 148)),
    dict(tag="E", gene="CTLA4", pts=ctla4_pts, fit=ctla4_fit, ci=ctla4_ci, r="0.220",
         yrange=[-0.12, 4.35], yticks=[0, 1, 2, 3, 4], box=(1492, 2289, 1262, 2069), tag_x=1231, ttl=(187, 129)),
]


def px(x):
    return x / W


def py(y):
    return 1 - y / H


axis_style = dict(showline=True, linecolor="black", linewidth=3, ticks="outside", ticklen=14,
                  tickwidth=3, tickcolor="black", showgrid=False, zeroline=False, fixedrange=True,
                  tickfont=dict(family=FONT, size=42, color="black"))

fig = go.Figure()
annotations = []
for i, p in enumerate(panels, start=1):
    sfx = "" if i == 1 else str(i)
    xa, ya = "x" + sfx, "y" + sfx
    xs, ys = zip(*p["pts"])
    fig.add_trace(go.Scatter(x=xs, y=ys, mode="markers", xaxis=xa, yaxis=ya,
                             marker=dict(size=27, color=POINT, line_width=0),
                             hoverinfo="skip", showlegend=False))
    mid = np.interp(ci_x, fit_x, p["fit"])
    half = np.array(p["ci"])
    fig.add_trace(go.Scatter(x=ci_x, y=mid - half, mode="lines", xaxis=xa, yaxis=ya,
                             line=dict(width=0, shape="spline"), hoverinfo="skip", showlegend=False))
    fig.add_trace(go.Scatter(x=ci_x, y=mid + half, mode="lines", xaxis=xa, yaxis=ya,
                             line=dict(width=0, shape="spline"), fill="tonexty", fillcolor=BAND,
                             hoverinfo="skip", showlegend=False))
    fig.add_trace(go.Scatter(x=fit_x, y=p["fit"], mode="lines", xaxis=xa, yaxis=ya,
                             line=dict(color=LINE, width=5), hoverinfo="skip", showlegend=False))

    L, R, T, B = p["box"]
    fig.update_layout(**{
        "xaxis" + sfx: dict(axis_style, domain=[px(L), px(R)], range=x_range, anchor=ya,
                            tickvals=spsb2_ticks),
        "yaxis" + sfx: dict(axis_style, domain=[py(B), py(T)], range=p["yrange"], anchor=xa,
                            tickvals=p["yticks"], ticklabelstandoff=16),
    })

    # panel letter
    annotations.append(dict(text=p["tag"], x=px(p["tag_x"]), y=py(T - 27), xanchor="left",
                            yanchor="middle", font=dict(size=112)))
    # x title, two lines
    cx = (L + R) / 2
    annotations.append(dict(text="The expression of SPSB2", x=px(cx), y=py(B + 120),
                            xanchor="center", yanchor="middle", font=dict(size=53)))
    annotations.append(dict(text="Log<sub>2</sub> (TPM+1)", x=px(cx), y=py(B + 173),
                            xanchor="center", yanchor="middle", font=dict(size=53)))
    # y title, two lines rotated
    cy = (T + B) / 2
    annotations.append(dict(text="The expression of " + p["gene"], x=px(L - p["ttl"][0]), y=py(cy),
                            xanchor="center", yanchor="middle", textangle=-90, font=dict(size=53)))
    annotations.append(dict(text="Log<sub>2</sub> (TPM+1)", x=px(L - p["ttl"][1]), y=py(cy),
                            xanchor="center", yanchor="middle", textangle=-90, font=dict(size=53)))
    # stats
    for txt, dy in (("Spearman", 159), ("<i>R</i> = " + p["r"], 105), ("<i>P</i> &lt; 0.001", 52)):
        annotations.append(dict(text=txt, x=px(R - 28), y=py(B - dy), xanchor="right",
                                yanchor="middle", font=dict(size=45)))

for a in annotations:
    a.update(xref="paper", yref="paper", showarrow=False)
    a["font"] = dict(family=FONT, color="black", **a["font"])

fig.update_layout(width=W, height=H, margin=dict(l=0, r=0, t=0, b=0),
                  paper_bgcolor="white", plot_bgcolor="white",
                  font=dict(family=FONT, color="black"), annotations=annotations)

fig.write_html("out.html")
